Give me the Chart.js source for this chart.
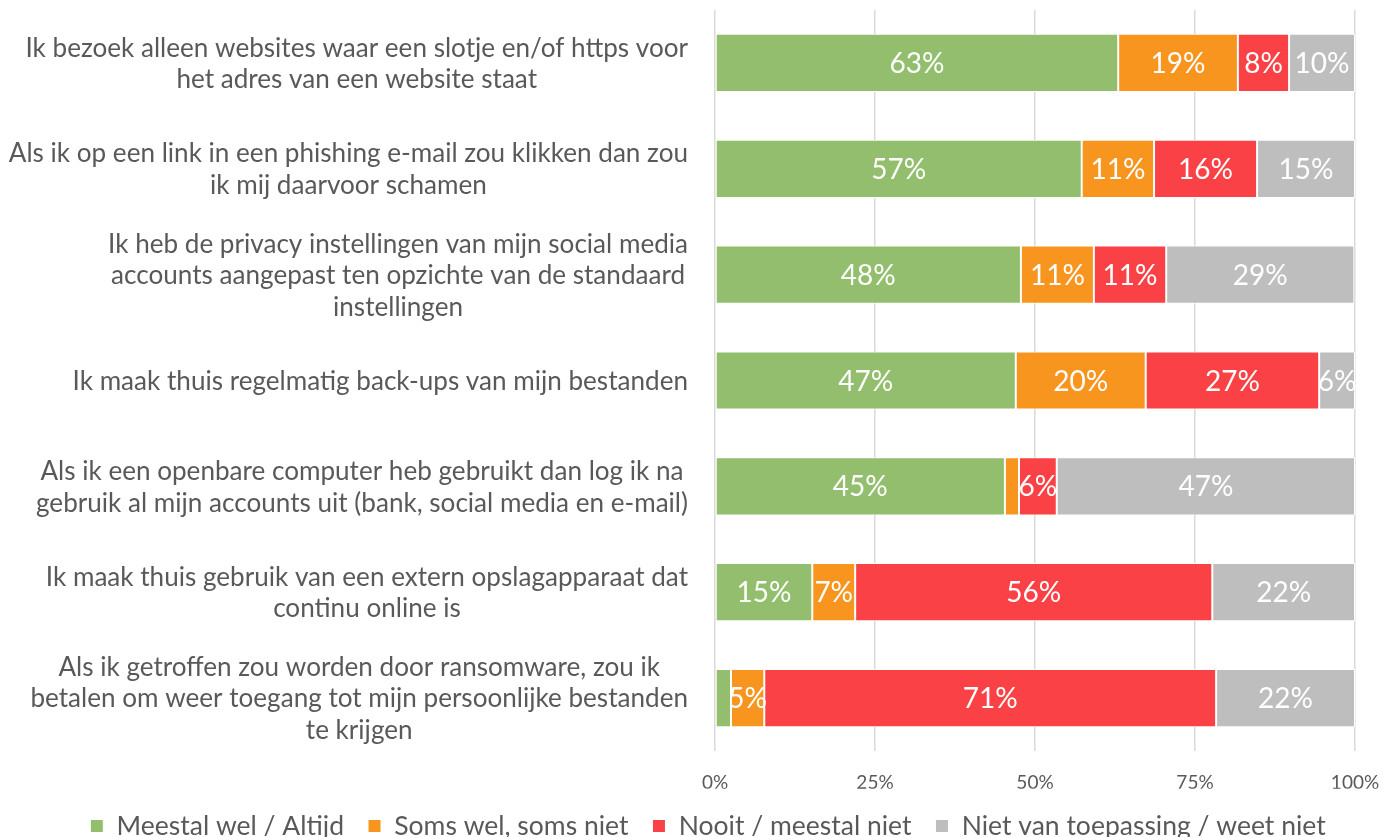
<!DOCTYPE html>
<html><head><meta charset="utf-8">
<script src="https://cdn.jsdelivr.net/npm/chart.js@4.4.1/dist/chart.umd.min.js"></script>
<style>html,body{margin:0;padding:0;background:#fff;overflow:hidden}#wrap{width:1384px;height:850px;position:relative}</style>
</head><body><div id="wrap"><canvas id="c"></canvas></div>
<script>
const categories = [
  ["Ik bezoek alleen websites waar een slotje en/of https voor", "het adres van een website staat"],
  ["Als ik op een link in een phishing e-mail zou klikken dan zou", "ik mij daarvoor schamen"],
  ["Ik heb de privacy instellingen van mijn social media", "accounts aangepast ten opzichte van de standaard", "instellingen"],
  ["Ik maak thuis regelmatig back-ups van mijn bestanden"],
  ["Als ik een openbare computer heb gebruikt dan log ik na", "gebruik al mijn accounts uit (bank, social media en e-mail)"],
  ["Ik maak thuis gebruik van een extern opslagapparaat dat", "continu online is"],
  ["Als ik getroffen zou worden door ransomware, zou ik", "betalen om weer toegang tot mijn persoonlijke bestanden", "te krijgen"]
];
const seriesNames = ["Meestal wel / Altijd", "Soms wel, soms niet", "Nooit / meestal niet", "Niet van toepassing / weet niet"];
const meestalWel        = [63.0, 57.3, 47.8, 47.0, 45.3, 15.2, 2.5];
const somsWel           = [18.7, 11.3, 11.4, 20.3, 2.2, 6.7, 5.2];
const nooit             = [8.0, 16.1, 11.3, 27.1, 5.9, 55.8, 70.6];
const nietVanToepassing = [10.3, 15.3, 29.4, 5.6, 46.6, 22.3, 21.7];
const xTickValues = [0, 25, 50, 75, 100];
const colors = ["#92BE6E", "#F7951F", "#FA4145", "#BEBEBE"];

const FONT = "Lato, 'Open Sans', sans-serif";
const TEXT = "#595959";

const valueLabels = {
  id: 'valueLabels',
  afterDatasetsDraw(chart) {
    const ctx = chart.ctx;
    ctx.save();
    ctx.font = "28px " + FONT;
    ctx.fillStyle = "#fff";
    ctx.textAlign = "center";
    ctx.textBaseline = "middle";
    chart.data.datasets.forEach((ds, di) => {
      const meta = chart.getDatasetMeta(di);
      meta.data.forEach((el, i) => {
        const v = ds.data[i];
        if (v < 4) return;
        const x = (el.x + el.base) / 2;
        ctx.fillText(Math.round(v) + "%", x, el.y + 1);
      });
    });
    ctx.restore();
  }
};

const catLabels = {
  id: 'catLabels',
  afterDraw(chart) {
    const ctx = chart.ctx;
    const ys = chart.scales.y;
    ctx.save();
    ctx.font = "26.1px " + FONT;
    ctx.fillStyle = TEXT;
    ctx.textAlign = "center";
    ctx.textBaseline = "middle";
    const right = 688, lh = 31.5;
    chart.data.labels.forEach((lines, i) => {
      const y = ys.getPixelForTick(i);
      const w = Math.max(...lines.map(l => ctx.measureText(l).width));
      const cx = right - w / 2;
      lines.forEach((l, j) => {
        ctx.fillText(l, cx, y + (j - (lines.length - 1) / 2) * lh + 1);
      });
    });
    ctx.restore();
  }
};

new Chart(document.getElementById('c'), {
  type: 'bar',
  data: {
    labels: categories,
    datasets: [meestalWel, somsWel, nooit, nietVanToepassing].map((d, i) => ({
      label: seriesNames[i],
      data: d,
      backgroundColor: colors[i],
      borderColor: "#fff",
      borderWidth: 1,
      borderSkipped: false,
      barPercentage: 0.55,
      categoryPercentage: 1
    }))
  },
  options: {
    indexAxis: 'y',
    responsive: true,
    maintainAspectRatio: false,
    animation: false,
    layout: { padding: { top: 10, right: 29, bottom: 0.75, left: 61 } },
    scales: {
      x: {
        stacked: true, min: 0, max: 100,
        afterBuildTicks(s) { s.ticks = xTickValues.map(v => ({ value: v })); },
        afterFit(s) { s.height = 37.75; },
        grid: { color: "#D9D9D9", lineWidth: 1.5, drawTicks: true, tickLength: 17, tickColor: "rgba(0,0,0,0)" },
        border: { display: false },
        ticks: { padding: 3, color: TEXT, font: { family: FONT, size: 19 }, callback: v => v + "%" }
      },
      y: {
        stacked: true,
        grid: { display: false },
        border: { display: false },
        ticks: { display: false },
        afterFit(s) { s.width = 654; }
      }
    },
    plugins: {
      legend: {
        position: 'bottom',
        labels: { boxWidth: 13, boxHeight: 13, padding: 24, color: TEXT, font: { family: FONT, size: 26.5 } }
      },
      tooltip: { enabled: false }
    }
  },
  plugins: [valueLabels, catLabels]
});
</script>
</body></html>
